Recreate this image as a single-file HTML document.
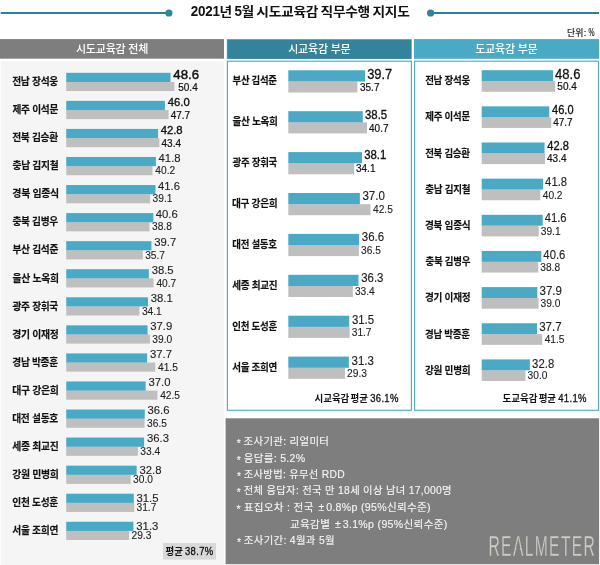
<!DOCTYPE html>
<html lang="ko">
<head>
<meta charset="utf-8">
<title>2021년 5월 시도교육감 직무수행 지지도</title>
<style>
html,body{margin:0;padding:0;}
body{width:600px;height:565px;position:relative;overflow:hidden;background:#fff;
 font-family:"Liberation Sans","Noto Sans CJK KR","NanumGothic",sans-serif;color:#111;}
div{position:absolute;white-space:nowrap;box-sizing:border-box;}
.tx{left:0;top:0;line-height:1;transform-origin:0 0;}
.title{font-size:12.6px;font-weight:700;letter-spacing:-0.3px;word-spacing:-0.9px;color:#111;line-height:16px;}
.title .d{display:inline-block;font-size:14.6px;letter-spacing:-0.3px;transform:scaleX(0.84);transform-origin:0 50%;}
.unit{font-size:8.6px;color:#111;-webkit-text-stroke:0.15px #111;letter-spacing:0.2px;}
.unit .pc{display:inline-block;font-size:10px;letter-spacing:0;transform:scaleX(0.66);transform-origin:0 50%;margin-right:-0.3em;}
.hd{color:#fff;font-size:11px;letter-spacing:-0.2px;font-weight:500;}
rect.t{fill:#4aa9c5;}
rect.g{fill:#bfbfbf;}
.lab{font-size:10.5px;font-weight:700;color:#111;letter-spacing:-0.3px;-webkit-text-stroke:0.15px #111;}
.v1{font-size:11.3px;color:#222;-webkit-text-stroke:0.12px #222;}
.v1.pM,.v1.pR{font-size:12.2px;}
.v1.bd{color:#111;-webkit-text-stroke:0.35px #111;}
.v1.big{font-size:13.2px;color:#111;-webkit-text-stroke:0.45px #111;}
.v1.big.pM,.v1.big.pR{font-size:14.6px;-webkit-text-stroke:0.28px #111;}
.v2{font-size:10.2px;color:#222;-webkit-text-stroke:0.1px #222;}
.v2.bd{font-size:10px;color:#111;-webkit-text-stroke:0.2px #111;}
.v1.bd.pM,.v1.bd.pR{-webkit-text-stroke:0.32px #111;}
.avg{font-size:10px;font-weight:700;color:#111;word-spacing:-0.6px;}
.avg .ns{word-spacing:-1.5px;}
.avg .n{font-weight:400;-webkit-text-stroke:0.3px #111;letter-spacing:0.35px;}
.nl{font-size:10.3px;color:#f6f6f6;letter-spacing:0.3px;-webkit-text-stroke:0.12px #f6f6f6;}
.nl .as{position:relative;top:1.5px;margin-right:-0.6px;}
.nl .pm{margin:0 1.5px 0 1.5px;}
.logo{font-size:30.4px;color:#d0cdc4;-webkit-text-stroke:0.3px #7e7e7e;letter-spacing:2.6px;}
.logo .la{position:relative;}
.logo .la::after{content:"";position:absolute;left:27%;width:34%;top:19.1px;height:3.8px;background:#7e7e7e;}
</style>
</head>
<body>
<svg width="600" height="565" viewBox="0 0 600 565" style="position:absolute;left:0;top:0">
<rect x="0.7" y="12" width="168" height="2" fill="#2a819b"/>
<circle cx="168.9" cy="13" r="3.6" fill="#2f849e"/>
<rect x="430.6" y="12" width="168.4" height="2" fill="#2a819b"/>
<circle cx="430.6" cy="13" r="3.6" fill="#2f849e"/>
<rect x="0" y="39.1" width="224" height="19.6" fill="#7e7e7e"/>
<rect x="226.8" y="39.1" width="185" height="19.7" fill="#4aa9c5"/>
<rect x="227.6" y="39.9" width="183.4" height="18.9" fill="#33839a"/>
<rect x="414" y="39.1" width="185.1" height="19.7" fill="#4aa9c5"/>
<rect x="0.9" y="61" width="223" height="504" fill="#f5f5f5"/>
<rect x="227.4" y="61.2" width="184" height="349.1" fill="#fff" stroke="#4fadc8" stroke-width="1.15"/>
<rect x="414.6" y="61.2" width="183.9" height="349.1" fill="#fff" stroke="#4fadc8" stroke-width="1.15"/>
<rect x="163" y="543" width="53" height="16.6" fill="#d9d9d9"/>
<rect x="225.6" y="418.3" width="373.5" height="145.9" fill="#7e7e7e"/>
<rect class="g" x="66.25" y="82.00" width="108.11" height="9.05"/>
<rect class="t" x="66.25" y="72.80" width="104.25" height="9.20"/>
<rect class="g" x="66.25" y="110.06" width="102.32" height="9.05"/>
<rect class="t" x="66.25" y="100.86" width="98.67" height="9.20"/>
<rect class="g" x="66.25" y="138.12" width="93.09" height="9.05"/>
<rect class="t" x="66.25" y="128.92" width="91.81" height="9.20"/>
<rect class="g" x="66.25" y="166.18" width="86.23" height="9.05"/>
<rect class="t" x="66.25" y="156.98" width="89.66" height="9.20"/>
<rect class="g" x="66.25" y="194.24" width="83.87" height="9.05"/>
<rect class="t" x="66.25" y="185.04" width="89.23" height="9.20"/>
<rect class="g" x="66.25" y="222.30" width="83.23" height="9.05"/>
<rect class="t" x="66.25" y="213.10" width="87.09" height="9.20"/>
<rect class="g" x="66.25" y="250.36" width="76.58" height="9.05"/>
<rect class="t" x="66.25" y="241.16" width="85.16" height="9.20"/>
<rect class="g" x="66.25" y="278.42" width="87.30" height="9.05"/>
<rect class="t" x="66.25" y="269.22" width="82.58" height="9.20"/>
<rect class="g" x="66.25" y="306.48" width="73.14" height="9.05"/>
<rect class="t" x="66.25" y="297.28" width="81.72" height="9.20"/>
<rect class="g" x="66.25" y="334.54" width="83.66" height="9.05"/>
<rect class="t" x="66.25" y="325.34" width="81.30" height="9.20"/>
<rect class="g" x="66.25" y="362.60" width="89.02" height="9.05"/>
<rect class="t" x="66.25" y="353.40" width="80.87" height="9.20"/>
<rect class="g" x="66.25" y="390.66" width="91.16" height="9.05"/>
<rect class="t" x="66.25" y="381.46" width="79.36" height="9.20"/>
<rect class="g" x="66.25" y="418.72" width="78.29" height="9.05"/>
<rect class="t" x="66.25" y="409.52" width="78.51" height="9.20"/>
<rect class="g" x="66.25" y="446.78" width="71.64" height="9.05"/>
<rect class="t" x="66.25" y="437.58" width="77.86" height="9.20"/>
<rect class="g" x="66.25" y="474.84" width="64.35" height="9.05"/>
<rect class="t" x="66.25" y="465.64" width="70.36" height="9.20"/>
<rect class="g" x="66.25" y="502.90" width="68.00" height="9.05"/>
<rect class="t" x="66.25" y="493.70" width="67.57" height="9.20"/>
<rect class="g" x="66.25" y="530.96" width="62.85" height="9.05"/>
<rect class="t" x="66.25" y="521.76" width="67.14" height="9.20"/>
<rect class="g" x="288.30" y="81.50" width="69.04" height="11.00"/>
<rect class="t" x="288.30" y="70.30" width="76.78" height="11.20"/>
<rect class="g" x="288.30" y="122.40" width="78.71" height="11.00"/>
<rect class="t" x="288.30" y="111.20" width="74.46" height="11.20"/>
<rect class="g" x="288.30" y="163.30" width="65.95" height="11.00"/>
<rect class="t" x="288.30" y="152.10" width="73.69" height="11.20"/>
<rect class="g" x="288.30" y="204.20" width="82.19" height="11.00"/>
<rect class="t" x="288.30" y="193.00" width="71.56" height="11.20"/>
<rect class="g" x="288.30" y="245.10" width="70.59" height="11.00"/>
<rect class="t" x="288.30" y="233.90" width="70.78" height="11.20"/>
<rect class="g" x="288.30" y="286.00" width="64.60" height="11.00"/>
<rect class="t" x="288.30" y="274.80" width="70.20" height="11.20"/>
<rect class="g" x="288.30" y="326.90" width="61.31" height="11.00"/>
<rect class="t" x="288.30" y="315.70" width="60.92" height="11.20"/>
<rect class="g" x="288.30" y="367.80" width="56.67" height="11.00"/>
<rect class="t" x="288.30" y="356.60" width="60.53" height="11.20"/>
<rect class="g" x="481.70" y="81.10" width="73.48" height="10.70"/>
<rect class="t" x="481.70" y="70.20" width="71.34" height="10.90"/>
<rect class="g" x="481.70" y="117.25" width="69.55" height="10.70"/>
<rect class="t" x="481.70" y="106.35" width="67.53" height="10.90"/>
<rect class="g" x="481.70" y="153.40" width="63.28" height="10.70"/>
<rect class="t" x="481.70" y="142.50" width="62.83" height="10.90"/>
<rect class="g" x="481.70" y="189.55" width="58.61" height="10.70"/>
<rect class="t" x="481.70" y="178.65" width="61.36" height="10.90"/>
<rect class="g" x="481.70" y="225.70" width="57.01" height="10.70"/>
<rect class="t" x="481.70" y="214.80" width="61.07" height="10.90"/>
<rect class="g" x="481.70" y="261.85" width="56.57" height="10.70"/>
<rect class="t" x="481.70" y="250.95" width="59.60" height="10.90"/>
<rect class="g" x="481.70" y="298.00" width="56.86" height="10.70"/>
<rect class="t" x="481.70" y="287.10" width="55.64" height="10.90"/>
<rect class="g" x="481.70" y="334.15" width="60.51" height="10.70"/>
<rect class="t" x="481.70" y="323.25" width="55.34" height="10.90"/>
<rect class="g" x="481.70" y="370.30" width="43.74" height="10.70"/>
<rect class="t" x="481.70" y="359.40" width="48.15" height="10.90"/>
</svg>
<div id="Ll0" class="tx lab" style="transform:translate(12.16px,76.30px) scaleX(0.9277);">전남 장석웅</div>
<div id="La0" class="tx v1 big pL" style="transform:translate(173.30px,67.70px);">48.6</div>
<div id="Lb0" class="tx v2 bd pL" style="transform:translate(178.23px,82.86px);">50.4</div>
<div id="Ll1" class="tx lab" style="transform:translate(12.48px,104.36px) scaleX(0.9232);">제주 이석문</div>
<div id="La1" class="tx v1 bd pL" style="transform:translate(167.73px,97.36px);">46.0</div>
<div id="Lb1" class="tx v2 bd pL" style="transform:translate(170.67px,111.15px);">47.7</div>
<div id="Ll2" class="tx lab" style="transform:translate(12.16px,132.42px) scaleX(0.9266);">전북 김승환</div>
<div id="La2" class="tx v1 bd pL" style="transform:translate(160.63px,125.42px);">42.8</div>
<div id="Lb2" class="tx v2 bd pL" style="transform:translate(161.54px,138.85px);">43.4</div>
<div id="Ll3" class="tx lab" style="transform:translate(12.51px,160.48px) scaleX(0.9300);">충남 김지철</div>
<div id="La3" class="tx v1 pL" style="transform:translate(158.57px,152.93px);">41.8</div>
<div id="Lb3" class="tx v2 pL" style="transform:translate(155.33px,165.60px);">40.2</div>
<div id="Ll4" class="tx lab" style="transform:translate(12.31px,187.98px) scaleX(0.9430);">경북 임종식</div>
<div id="La4" class="tx v1 pL" style="transform:translate(157.99px,180.94px);">41.6</div>
<div id="Lb4" class="tx v2 pL" style="transform:translate(152.57px,193.75px);">39.1</div>
<div id="Ll5" class="tx lab" style="transform:translate(12.41px,216.06px) scaleX(0.9224);">충북 김병우</div>
<div id="La5" class="tx v1 pL" style="transform:translate(155.74px,209.20px);">40.6</div>
<div id="Lb5" class="tx v2 pL" style="transform:translate(152.01px,222.39px);">38.8</div>
<div id="Ll6" class="tx lab" style="transform:translate(12.44px,244.15px) scaleX(0.9231);">부산 김석준</div>
<div id="La6" class="tx v1 pL" style="transform:translate(154.28px,237.36px);">39.7</div>
<div id="Lb6" class="tx v2 pL" style="transform:translate(145.13px,250.55px);">35.7</div>
<div id="Ll7" class="tx lab" style="transform:translate(12.44px,272.72px) scaleX(0.9355);">울산 노옥희</div>
<div id="La7" class="tx v1 pL" style="transform:translate(151.66px,265.46px);">38.5</div>
<div id="Lb7" class="tx v2 pL" style="transform:translate(156.45px,278.94px);">40.7</div>
<div id="Ll8" class="tx lab" style="transform:translate(12.49px,300.78px) scaleX(0.9208);">광주 장휘국</div>
<div id="La8" class="tx v1 pL" style="transform:translate(150.72px,292.76px);">38.1</div>
<div id="Lb8" class="tx v2 pL" style="transform:translate(141.88px,307.19px);">34.1</div>
<div id="Ll9" class="tx lab" style="transform:translate(12.31px,328.84px) scaleX(0.9355);">경기 이재정</div>
<div id="La9" class="tx v1 pL" style="transform:translate(150.25px,321.07px);">37.9</div>
<div id="Lb9" class="tx v2 pL" style="transform:translate(152.36px,334.52px);">39.0</div>
<div id="Ll10" class="tx lab" style="transform:translate(12.32px,356.90px) scaleX(0.9214);">경남 박종훈</div>
<div id="La10" class="tx v1 pL" style="transform:translate(149.99px,349.19px);">37.7</div>
<div id="Lb10" class="tx v2 pL" style="transform:translate(158.04px,363.49px);">41.5</div>
<div id="Ll11" class="tx lab" style="transform:translate(12.17px,384.96px) scaleX(0.9411);">대구 강은희</div>
<div id="La11" class="tx v1 pL" style="transform:translate(148.44px,377.27px);">37.0</div>
<div id="Lb11" class="tx v2 pL" style="transform:translate(160.16px,391.33px);">42.5</div>
<div id="Ll12" class="tx lab" style="transform:translate(12.18px,413.02px) scaleX(0.9275);">대전 설동호</div>
<div id="La12" class="tx v1 pL" style="transform:translate(147.51px,405.39px);">36.6</div>
<div id="Lb12" class="tx v2 pL" style="transform:translate(147.10px,419.46px);">36.5</div>
<div id="Ll13" class="tx lab" style="transform:translate(12.27px,441.08px) scaleX(0.9344);">세종 최교진</div>
<div id="La13" class="tx v1 pL" style="transform:translate(146.98px,433.47px);">36.3</div>
<div id="Lb13" class="tx v2 pL" style="transform:translate(140.34px,446.84px);">33.4</div>
<div id="Ll14" class="tx lab" style="transform:translate(12.17px,469.14px) scaleX(0.9404);">강원 민병희</div>
<div id="La14" class="tx v1 pL" style="transform:translate(139.44px,464.85px);">32.8</div>
<div id="Lb14" class="tx v2 pL" style="transform:translate(133.11px,474.89px);">30.0</div>
<div id="Ll15" class="tx lab" style="transform:translate(12.23px,497.20px) scaleX(0.9265);">인천 도성훈</div>
<div id="La15" class="tx v1 pL" style="transform:translate(136.49px,492.82px);">31.5</div>
<div id="Lb15" class="tx v2 pL" style="transform:translate(136.54px,503.12px);">31.7</div>
<div id="Ll16" class="tx lab" style="transform:translate(12.29px,525.26px) scaleX(0.9292);">서울 조희연</div>
<div id="La16" class="tx v1 pL" style="transform:translate(136.32px,520.86px);">31.3</div>
<div id="Lb16" class="tx v2 pL" style="transform:translate(131.53px,531.23px);">29.3</div>
<div id="Ml0" class="tx lab" style="transform:translate(232.52px,75.40px) scaleX(0.8943);">부산 김석준</div>
<div id="Ma0" class="tx v1 big pM" style="transform:translate(367.17px,67.10px) scaleX(0.8827);">39.7</div>
<div id="Mb0" class="tx v2 bd pM" style="transform:translate(359.99px,82.71px);">35.7</div>
<div id="Ml1" class="tx lab" style="transform:translate(232.39px,116.30px) scaleX(0.9147);">울산 노옥희</div>
<div id="Ma1" class="tx v1 bd pM" style="transform:translate(365.00px,108.66px) scaleX(0.9330);">38.5</div>
<div id="Mb1" class="tx v2 bd pM" style="transform:translate(369.01px,123.61px);">40.7</div>
<div id="Ml2" class="tx lab" style="transform:translate(232.50px,157.20px) scaleX(0.9003);">광주 장휘국</div>
<div id="Ma2" class="tx v1 bd pM" style="transform:translate(364.15px,148.97px) scaleX(0.9335);">38.1</div>
<div id="Mb2" class="tx v2 bd pM" style="transform:translate(355.98px,164.21px);">34.1</div>
<div id="Ml3" class="tx lab" style="transform:translate(231.94px,198.47px) scaleX(0.9202);">대구 강은희</div>
<div id="Ma3" class="tx v1 pM" style="transform:translate(362.42px,190.30px) scaleX(0.9476);">37.0</div>
<div id="Mb3" class="tx v2 pM" style="transform:translate(373.02px,205.30px);">42.5</div>
<div id="Ml4" class="tx lab" style="transform:translate(232.24px,239.00px) scaleX(0.9001);">대전 설동호</div>
<div id="Ma4" class="tx v1 pM" style="transform:translate(361.84px,231.07px) scaleX(0.9416);">36.6</div>
<div id="Mb4" class="tx v2 pM" style="transform:translate(361.04px,246.36px);">36.5</div>
<div id="Ml5" class="tx lab" style="transform:translate(232.23px,279.90px) scaleX(0.9137);">세종 최교진</div>
<div id="Ma5" class="tx v1 pM" style="transform:translate(361.24px,271.87px) scaleX(0.9346);">36.3</div>
<div id="Mb5" class="tx v2 pM" style="transform:translate(354.91px,287.27px);">33.4</div>
<div id="Ml6" class="tx lab" style="transform:translate(232.18px,320.80px) scaleX(0.9059);">인천 도성훈</div>
<div id="Ma6" class="tx v1 pM" style="transform:translate(351.94px,313.70px) scaleX(0.9348);">31.5</div>
<div id="Mb6" class="tx v2 pM" style="transform:translate(351.71px,327.50px);">31.7</div>
<div id="Ml7" class="tx lab" style="transform:translate(232.18px,361.70px) scaleX(0.9079);">서울 조희연</div>
<div id="Ma7" class="tx v1 pM" style="transform:translate(351.56px,354.50px) scaleX(0.9413);">31.3</div>
<div id="Mb7" class="tx v2 pM" style="transform:translate(347.12px,368.66px);">29.3</div>
<div id="Rl0" class="tx lab" style="transform:translate(425.13px,75.40px) scaleX(0.9067);">전남 장석웅</div>
<div id="Ra0" class="tx v1 big pR" style="transform:translate(555.03px,67.00px) scaleX(0.8944);">48.6</div>
<div id="Rb0" class="tx v2 bd pR" style="transform:translate(557.34px,82.32px);">50.4</div>
<div id="Rl1" class="tx lab" style="transform:translate(425.37px,110.88px) scaleX(0.9006);">제주 이석문</div>
<div id="Ra1" class="tx v1 bd pR" style="transform:translate(552.03px,104.45px) scaleX(0.9074);">46.0</div>
<div id="Rb1" class="tx v2 bd pR" style="transform:translate(553.21px,118.01px);">47.7</div>
<div id="Rl2" class="tx lab" style="transform:translate(425.13px,147.70px) scaleX(0.9022);">전북 김승환</div>
<div id="Ra2" class="tx v1 bd pR" style="transform:translate(547.33px,139.68px) scaleX(0.9089);">42.8</div>
<div id="Rb2" class="tx v2 bd pR" style="transform:translate(547.02px,154.45px);">43.4</div>
<div id="Rl3" class="tx lab" style="transform:translate(425.27px,183.55px) scaleX(0.9086);">충남 김지철</div>
<div id="Ra3" class="tx v1 pR" style="transform:translate(545.11px,176.00px) scaleX(0.9252);">41.8</div>
<div id="Rb3" class="tx v2 pR" style="transform:translate(542.71px,190.60px);">40.2</div>
<div id="Rl4" class="tx lab" style="transform:translate(424.98px,220.00px) scaleX(0.9200);">경북 임종식</div>
<div id="Ra4" class="tx v1 pR" style="transform:translate(544.65px,212.26px) scaleX(0.9210);">41.6</div>
<div id="Rb4" class="tx v2 pR" style="transform:translate(540.77px,226.95px);">39.1</div>
<div id="Rl5" class="tx lab" style="transform:translate(425.43px,256.15px) scaleX(0.9044);">충북 김병우</div>
<div id="Ra5" class="tx v1 pR" style="transform:translate(543.35px,249.05px) scaleX(0.9263);">40.6</div>
<div id="Rb5" class="tx v2 pR" style="transform:translate(540.28px,262.78px);">38.8</div>
<div id="Rl6" class="tx lab" style="transform:translate(425.02px,292.30px) scaleX(0.9171);">경기 이재정</div>
<div id="Ra6" class="tx v1 pR" style="transform:translate(539.59px,285.10px) scaleX(0.9426);">37.9</div>
<div id="Rb6" class="tx v2 pR" style="transform:translate(540.48px,298.62px);">39.0</div>
<div id="Rl7" class="tx lab" style="transform:translate(425.02px,329.01px) scaleX(0.9058);">경남 박종훈</div>
<div id="Ra7" class="tx v1 pR" style="transform:translate(539.18px,321.41px) scaleX(0.9444);">37.7</div>
<div id="Rb7" class="tx v2 pR" style="transform:translate(544.70px,335.20px);">41.5</div>
<div id="Rl8" class="tx lab" style="transform:translate(425.00px,364.60px) scaleX(0.9166);">강원 민병희</div>
<div id="Ra8" class="tx v1 pR" style="transform:translate(532.12px,357.68px) scaleX(0.9303);">32.8</div>
<div id="Rb8" class="tx v2 pR" style="transform:translate(527.55px,371.35px);">30.0</div>
<div id="title" class="tx title" style="transform:translate(190.85px,3.47px) scaleX(1.0933);"><span class="d" style="margin-right:-0.35em">2021</span>년 <span class="d" style="margin-right:-0.085em">5</span>월 시도교육감 직무수행 지지도</div>
<div id="unit" class="tx unit" style="transform:translate(566.89px,28.37px) scaleX(1.0342);">단위: <span class="pc">%</span></div>
<div id="h1" class="tx hd" style="transform:translate(75.89px,43.80px);">시도교육감 전체</div>
<div id="h2" class="tx hd" style="transform:translate(288.14px,43.80px);">시교육감 부문</div>
<div id="h3" class="tx hd" style="transform:translate(475.15px,43.80px);">도교육감 부문</div>
<div id="a1" class="tx avg" style="transform:translate(165.61px,547.00px) scaleX(0.9435);">평균 <span class="n">38.7%</span></div>
<div id="a2" class="tx avg" style="transform:translate(314.40px,394.30px) scaleX(0.9499);">시교육감<span class="ns"> </span>평균 <span class="n">36.1%</span></div>
<div id="a3" class="tx avg" style="transform:translate(502.44px,394.30px) scaleX(0.9499);">도교육감<span class="ns"> </span>평균 <span class="n">41.1%</span></div>
<div id="n0" class="tx nl" style="transform:translate(236.65px,437.40px) scaleX(1.0126);"><span class="as">*</span> 조사기관: 리얼미터</div>
<div id="n1" class="tx nl" style="transform:translate(236.65px,453.70px) scaleX(1.0237);"><span class="as">*</span> 응답률: 5.2%</div>
<div id="n2" class="tx nl" style="transform:translate(236.89px,470.00px) scaleX(1.0012);"><span class="as">*</span> 조사방법: 유무선 RDD</div>
<div id="n3" class="tx nl" style="transform:translate(236.79px,485.76px) scaleX(1.0037);"><span class="as">*</span> 전체 응답자: 전국 만 18세 이상 남녀 17,000명</div>
<div id="n4" class="tx nl" style="transform:translate(236.57px,502.52px) scaleX(1.0281);"><span class="as">*</span> 표집오차 : 전국 <span class="pm">±</span>0.8%p (95%신뢰수준)</div>
<div id="n5" class="tx nl" style="transform:translate(290.00px,520.06px) scaleX(1.0290);">교육감별 <span class="pm">±</span>3.1%p (95%신뢰수준)</div>
<div id="n6" class="tx nl" style="transform:translate(236.90px,536.00px) scaleX(1.0127);"><span class="as">*</span> 조사기간: 4월과 5월</div>
<div id="logo" class="tx logo erode" style="transform:translate(488.48px,529.99px) scaleX(0.5151);">RE<span class="la">A</span>LMETER</div>
</body>
</html>
